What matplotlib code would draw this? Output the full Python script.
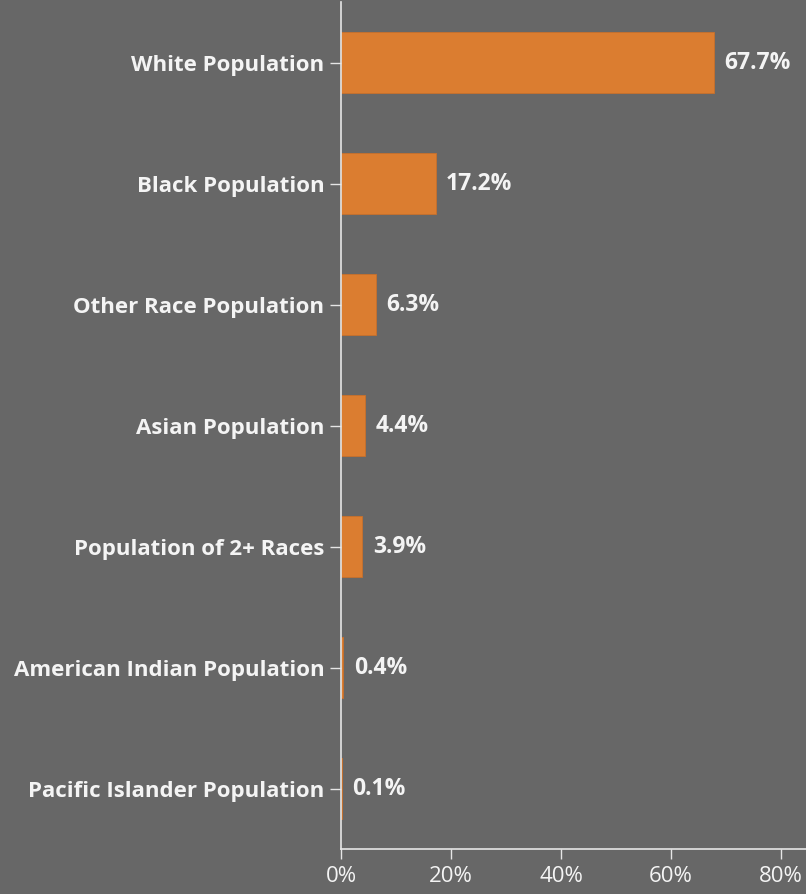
import matplotlib
matplotlib.use("Agg")
import matplotlib.pyplot as plt

categories = ["White Population", "Black Population", "Other Race Population",
              "Asian Population", "Population of 2+ Races",
              "American Indian Population", "Pacific Islander Population"]
values = [67.7, 17.2, 6.3, 4.4, 3.9, 0.4, 0.1]
xticks = [0, 20, 40, 60, 80]
xtick_labels = ["0%", "20%", "40%", "60%", "80%"]

bg = "#676767"
bar_color = "#DB7D30"
txt = "#F4F4F4"
axis_c = "#E6E6E6"
font = "Open Sans"

fig = plt.figure(figsize=(8.06, 8.94), dpi=100, facecolor=bg)
ax = fig.add_axes([341/806, 45/894, 1 - 341/806, 847/894])
ax.set_facecolor(bg)

ypos = list(range(len(categories)))
ax.barh(ypos, values, height=0.5, color=bar_color, edgecolor="#C8702B", linewidth=0.6)
ax.set_ylim(len(categories) - 0.5, -0.5)
ax.set_xlim(0, 84.5)

for y, v in zip(ypos, values):
    ax.text(v + 1.9, y, f"{v}%", va="center", ha="left", color=txt,
            fontsize=16.5, fontweight="bold", family=font)

ax.set_yticks(ypos)
ax.set_yticklabels(categories, fontsize=16, fontweight="bold", family=font, color=txt)
ax.set_xticks(xticks)
ax.set_xticklabels(xtick_labels, fontsize=16, family=font, color=txt)
ax.tick_params(axis="y", length=8, width=1, color=axis_c, pad=4)
ax.tick_params(axis="x", length=7, width=1, color=axis_c, pad=5)

for s in ["top", "right"]:
    ax.spines[s].set_visible(False)
for s in ["left", "bottom"]:
    ax.spines[s].set_color(axis_c)
    ax.spines[s].set_linewidth(1.2)

fig.savefig("out.png", dpi=100, facecolor=bg)
